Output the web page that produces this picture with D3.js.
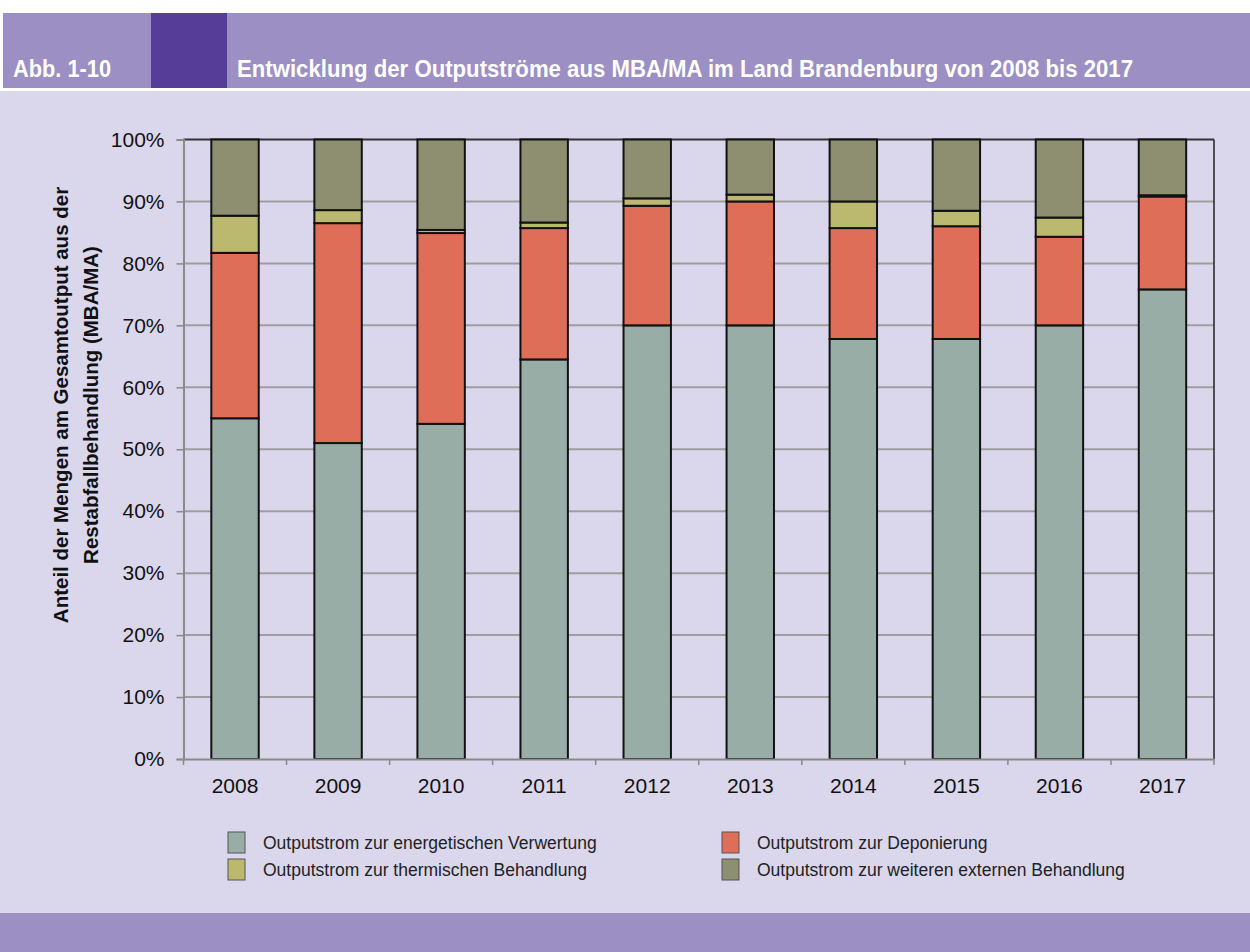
<!DOCTYPE html>
<meta charset="utf-8">
<style>
body { margin: 0; background: #fff; }
svg text { font-family: "Liberation Sans", Arial, sans-serif; }
</style>
<body>
</body>
<script src="https://cdn.jsdelivr.net/npm/d3@7"></script>
<script>

// data (percent of total output)
var years = ["2008", "2009", "2010", "2011", "2012", "2013", "2014", "2015", "2016", "2017"];
var energetisch = [55.0, 51.0, 54.1, 64.5, 70.0, 70.0, 67.8, 67.8, 70.0, 75.8];
var deponierung = [26.7, 35.5, 30.8, 21.2, 19.3, 20.0, 17.9, 18.2, 14.3, 15.0];
var thermisch   = [6.0, 2.1, 0.5, 0.9, 1.2, 1.1, 4.3, 2.5, 3.1, 0.2];
var weitere     = [12.3, 11.4, 14.6, 13.4, 9.5, 8.9, 10.0, 11.5, 12.6, 9.0];
var yTicks = [0, 10, 20, 30, 40, 50, 60, 70, 80, 90, 100];

var seriesNames = [
  "Outputstrom zur energetischen Verwertung",
  "Outputstrom zur Deponierung",
  "Outputstrom zur thermischen Behandlung",
  "Outputstrom zur weiteren externen Behandlung"
];
var colors = ["#99ada7", "#df6e58", "#bab96f", "#8e8f70"];

var width = 1250, height = 952;
var plot = {left: 183.5, right: 1214, top: 139.5, bottom: 759};

var svg = d3.select("body").append("svg")
    .attr("width", width)
    .attr("height", height);

// backgrounds
svg.append("rect").attr("x", 0).attr("y", 91).attr("width", width).attr("height", 822).attr("fill", "#dad6ec");
svg.append("rect").attr("x", 3).attr("y", 13).attr("width", width - 3).attr("height", 75).attr("fill", "#9c8fc3");
svg.append("rect").attr("x", 151).attr("y", 13).attr("width", 76).attr("height", 75).attr("fill", "#563d97");
svg.append("rect").attr("x", 0).attr("y", 913).attr("width", width).attr("height", 39).attr("fill", "#9c8fc3");

// header (narrow bold look via textLength)
svg.append("text")
    .attr("x", 13).attr("y", 77)
    .attr("fill", "#fff")
    .attr("font-weight", "bold")
    .attr("font-size", 24)
    .attr("textLength", 98)
    .attr("lengthAdjust", "spacingAndGlyphs")
    .text("Abb. 1-10");
svg.append("text")
    .attr("x", 237).attr("y", 77)
    .attr("fill", "#fff")
    .attr("font-weight", "bold")
    .attr("font-size", 24)
    .attr("textLength", 896)
    .attr("lengthAdjust", "spacingAndGlyphs")
    .text("Entwicklung der Outputströme aus MBA/MA im Land Brandenburg von 2008 bis 2017");

// scales
var x = d3.scaleBand()
    .domain(years)
    .range([plot.left, plot.right])
    .paddingInner(0.54)
    .paddingOuter(0.27);

var y = d3.scaleLinear()
    .domain([0, 100])
    .range([plot.bottom, plot.top]);

// gridlines
svg.append("g")
  .selectAll("line")
  .data(yTicks.slice(1))
  .enter().append("line")
    .attr("x1", plot.left).attr("x2", plot.right)
    .attr("y1", function(d) { return y(d); })
    .attr("y2", function(d) { return y(d); })
    .attr("stroke", function(d) { return d == 100 ? "#333" : "#9e9e9e"; })
    .attr("stroke-width", 2);

// right border
svg.append("line")
    .attr("x1", plot.right).attr("x2", plot.right)
    .attr("y1", plot.top).attr("y2", plot.bottom)
    .attr("stroke", "#222").attr("stroke-width", 1.5);

// stacked bars
var rows = years.map(function(yr, i) {
  return {year: yr, s0: energetisch[i], s1: deponierung[i], s2: thermisch[i], s3: weitere[i]};
});
var stack = d3.stack().keys(["s0", "s1", "s2", "s3"]);
var layers = stack(rows);

svg.append("g")
  .selectAll("g")
  .data(layers)
  .enter().append("g")
    .attr("fill", function(d, i) { return colors[i]; })
  .selectAll("rect")
  .data(function(d) { return d; })
  .enter().append("rect")
    .attr("x", function(d) { return x(d.data.year); })
    .attr("width", x.bandwidth())
    .attr("y", function(d) { return y(d[1]); })
    .attr("height", function(d) { return y(d[0]) - y(d[1]); })
    .attr("stroke", "#111")
    .attr("stroke-width", 2);

// y axis
var yAxis = svg.append("g")
    .attr("transform", "translate(" + plot.left + ",0)")
    .call(d3.axisLeft(y).tickValues(yTicks).tickSize(7).tickPadding(12)
      .tickFormat(function(d) { return d + "%"; }));
yAxis.select(".domain").attr("stroke", "#8a8a8a").attr("stroke-width", 2);
yAxis.selectAll(".tick line").attr("stroke", "#8a8a8a").attr("stroke-width", 1.5);
yAxis.selectAll("text").attr("font-size", 21).attr("fill", "#111")
    .style("font-family", "'Liberation Sans', Arial, sans-serif");

// x axis with boundary ticks
var xAxis = svg.append("g")
    .attr("transform", "translate(0," + plot.bottom + ")")
    .call(d3.axisBottom(x).tickSize(0).tickPadding(19));
xAxis.select(".domain").attr("stroke", "#8a8a8a").attr("stroke-width", 2);
xAxis.selectAll("text").attr("font-size", 21).attr("fill", "#111")
    .style("font-family", "'Liberation Sans', Arial, sans-serif");
var step = (plot.right - plot.left) / years.length;
svg.append("g")
  .selectAll("line")
  .data(d3.range(years.length + 1))
  .enter().append("line")
    .attr("x1", function(d) { return plot.left + d * step; })
    .attr("x2", function(d) { return plot.left + d * step; })
    .attr("y1", plot.bottom).attr("y2", plot.bottom + 6)
    .attr("stroke", "#8a8a8a").attr("stroke-width", 1.5);

// y axis title
var yTitle = svg.append("text")
    .attr("transform", "translate(77,405) rotate(-90)")
    .attr("text-anchor", "middle")
    .attr("font-weight", "bold")
    .attr("font-size", 20.5)
    .attr("fill", "#111");
yTitle.append("tspan").attr("x", 0).attr("dy", -9).text("Anteil der Mengen am Gesamtoutput aus der");
yTitle.append("tspan").attr("x", 0).attr("dy", 30).text("Restabfallbehandlung (MBA/MA)");

// legend
var legendPos = [[228, 832], [722, 832], [228, 859], [722, 859]];
var legend = svg.append("g")
  .selectAll("g")
  .data(seriesNames)
  .enter().append("g")
    .attr("transform", function(d, i) { return "translate(" + legendPos[i][0] + "," + legendPos[i][1] + ")"; });
legend.append("rect")
    .attr("width", 17).attr("height", 21)
    .attr("fill", function(d, i) { return colors[i]; })
    .attr("stroke", "#555").attr("stroke-width", 1);
legend.append("text")
    .attr("x", 35).attr("y", 17)
    .attr("font-size", 17.5)
    .attr("fill", "#222")
    .text(function(d) { return d; });

</script>
